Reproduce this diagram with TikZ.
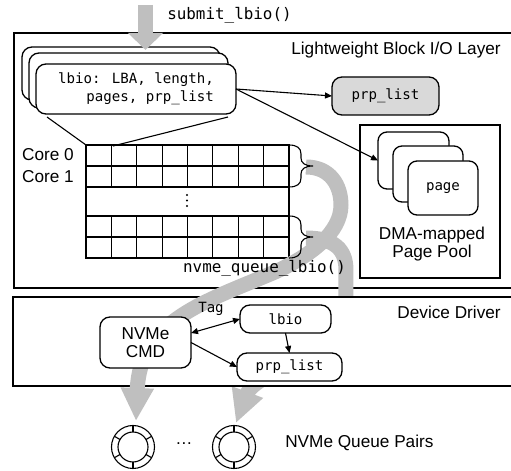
\documentclass[tikz,border=0pt]{standalone}
\usepackage{fontspec}
\setmainfont{Liberation Sans}
\newfontfamily\monof{DejaVu Sans Mono}
\usetikzlibrary{arrows.meta}
\definecolor{bandgray}{RGB}{191,191,191}
\definecolor{boxgray}{RGB}{217,217,217}
\begin{document}
\begin{tikzpicture}[x=0.5pt,y=-0.5pt, line width=0.65pt,
  sans/.style={font=\fontsize{8.6}{9.2}\selectfont},
  bigmono/.style={font=\monof\fontsize{7.95}{9}\selectfont},
  smallmono/.style={font=\monof\fontsize{7.05}{9}\selectfont},
  rbox/.style={draw, fill=white, rounded corners=5pt, inner sep=0pt, outer sep=0pt},
  band/.style={draw=bandgray, line width=7.5pt, -{Triangle[width=15.5pt,length=16.5pt]}},
  conn/.style={line width=0.55pt, -{Triangle[length=3.5pt,width=3pt]}},
  dconn/.style={line width=0.55pt, {Triangle[length=3.5pt,width=3pt]}-{Triangle[length=3.5pt,width=3pt]}},
  thin/.style={line width=0.55pt},
]
\useasboundingbox (0,0) rectangle (511,471);
\clip (0,0) rectangle (511,471);

% ---- Lightweight Block I/O Layer frame
\draw (14,33) rectangle (530,288);
\node[sans, anchor=east] (lwl) at (508,50) {Lightweight Block I/O Layer};

% lbio stack
\node[rbox, minimum width=99pt, minimum height=26.5pt] (lb3) at (121,73.5) {};
\node[rbox, minimum width=99.5pt, minimum height=27.5pt] (lb2) at (128.5,80.5) {};
\node[rbox, minimum width=100pt, minimum height=25pt, smallmono, align=right] (lb1) at (136,89) {lbio: LBA, length,\\pages, prp\_list};

% zoom lines
\coordinate (zl1) at (47,117);
\coordinate (zl2) at (228,117);
\coordinate (gtl) at (86,145);
\coordinate (gt2) at (113,146);
\draw[thin] (zl1) -- (gtl);
\draw[thin] (zl2) -- (gt2);

% prp_list (grey)
\node[rbox, fill=boxgray, minimum width=53.5pt, minimum height=19pt, smallmono] (prpg) at (385.5,96) {prp\_list};

% page pool
\node[draw, minimum width=70pt, minimum height=76.5pt, inner sep=0pt, outer sep=0pt] (pool) at (430,201.5) {};
\node[rbox, rounded corners=4.5pt, minimum width=35.5pt, minimum height=28.5pt] (pg3) at (413.5,160.5) {};
\node[rbox, rounded corners=4.5pt, minimum width=35pt, minimum height=28pt] (pg2) at (428,174) {};
\node[rbox, rounded corners=4.5pt, minimum width=35pt, minimum height=27pt, smallmono] (pg1) at (443,188) {page};
\node[sans, align=center] (dma) at (432,244) {DMA-mapped\\Page Pool};

\draw[conn] (lb1.east) -- (prpg.west);
\draw[conn] (lb1.east) -- (pg3.west);

% grid of per-core queues
\draw[thin] (86,145) rectangle (289,258);
\foreach \y in {166,187,216,237} \draw[thin] (86,\y) -- (289,\y);
\foreach \k in {1,...,7} {
  \pgfmathsetmacro\xx{86+25.375*\k}
  \draw[thin] (\xx,145) -- (\xx,187);
  \draw[thin] (\xx,216) -- (\xx,258);
}
\foreach \y in {195,200.5,206} \fill (187,\y) circle[radius=0.6pt];
\node[sans] (c0) at (48,155) {Core 0};
\node[sans] (c1) at (48,177) {Core 1};

% band B (hidden inside device driver box)
\coordinate (bBs) at (306,238);
\coordinate (bBe) at (236,423);
\draw[band] (bBs) .. controls (335,238) and (346,250) .. (346,270) -- (346,300) .. controls (346,350) and (255,372) .. (bBe);

% ---- Device Driver frame
\draw[fill=white] (13,297) rectangle (530,386);
\node[sans, anchor=east] (ddl) at (508,312) {Device Driver};

% band A
\coordinate (bAs) at (306,167);
\coordinate (bAe) at (136,421);
\draw[band] (bAs) .. controls (330,167) and (341,185) .. (341,205) .. controls (341,232) and (312,255) .. (275,272) .. controls (205,302) and (140,320) .. (bAe);

% braces
\foreach \ya/\ym/\yb in {145/166/187, 216/237/258}
  \draw[thin, fill=none] (289,\ya) .. controls (297,\ya) and (301,\ya+3) .. (301,\ya+9) -- (301,\ym-8)
     .. controls (301,\ym-3) and (305,\ym) .. (313,\ym)
     .. controls (305,\ym) and (301,\ym+3) .. (301,\ym+8) -- (301,\yb-9)
     .. controls (301,\yb-3) and (297,\yb) .. (289,\yb);

\node[bigmono] (nql) at (264.5,268) {nvme\_queue\_lbio()};
\node[bigmono] (sub) at (229.5,15) {submit\_lbio()};

% driver contents
\node[rbox, minimum width=45.5pt, minimum height=25.5pt, sans, align=center] (cmd) at (145.5,342.5) {NVMe\\CMD};
\node[rbox, minimum width=45.5pt, minimum height=14pt, smallmono] (lb) at (285.5,319) {lbio};
\node[rbox, minimum width=52.5pt, minimum height=14pt, smallmono] (prp) at (289.5,367) {prp\_list};
\node[smallmono] (tag) at (211,309) {Tag};
\draw[dconn] ([yshift=4.75pt]cmd.east) -- (lb.west);
\draw[conn] (cmd.east) -- (prp.west);
\draw[conn] (lb.south) -- (prp.north);

% queue pairs
\foreach \n/\x in {1/133, 2/234} {
  \node[draw, thin, circle, minimum size=21.5pt, inner sep=0pt, outer sep=0pt] (qo\n) at (\x,447) {};
  \node[draw, thin, circle, minimum size=15pt, inner sep=0pt, outer sep=0pt] (qi\n) at (\x,447) {};
  \foreach \a in {30,90,150,210,270,330} \draw[thin] (qi\n.\a) -- (qo\n.\a);
}
\node[sans] (qdots) at (184,444) {\dots};
\node[sans, anchor=west] (nqp) at (278,443) {NVMe Queue Pairs};

% top input arrow
\coordinate (ta) at (145.5,5);
\coordinate (tb) at (145.5,50);
\draw[bandgray, line width=7.5pt, -{Triangle[width=17pt,length=8.5pt]}] (ta) -- (tb);
\end{tikzpicture}
\end{document}
